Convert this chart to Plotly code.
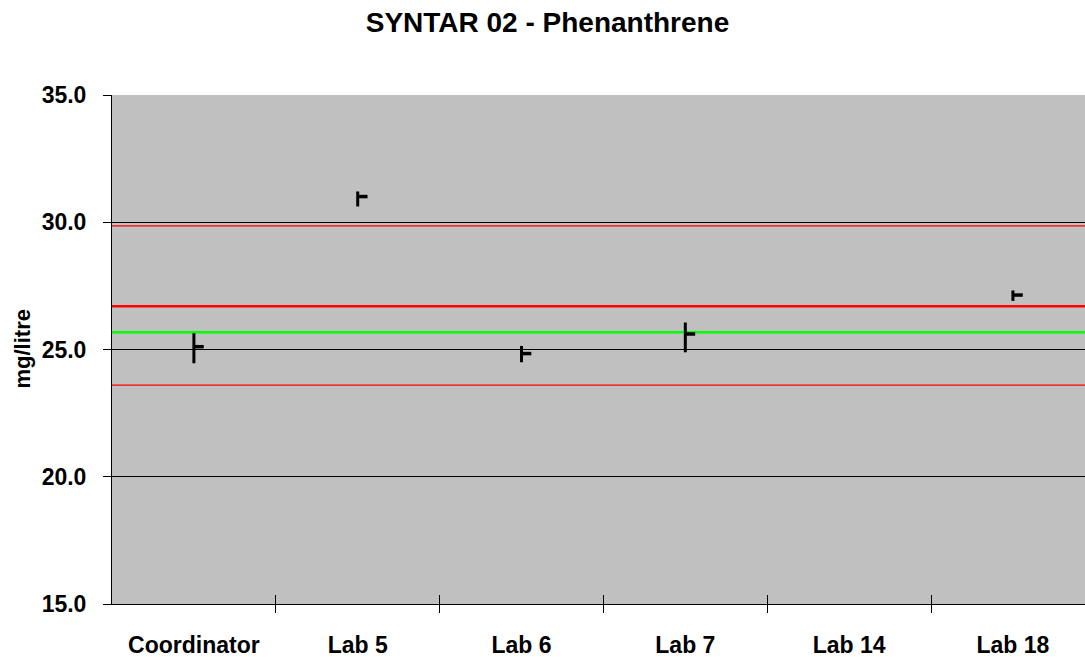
import plotly.graph_objects as go

# ---- data ----
categories = ["Coordinator", "Lab 5", "Lab 6", "Lab 7", "Lab 14", "Lab 18"]
high_vals = [25.64, 31.21, 25.14, 26.06, None, 27.32]
low_vals = [24.46, 30.62, 24.50, 24.89, None, 26.91]
close_vals = [25.11, 31.01, 24.84, 25.61, None, 27.14]

assigned_value = 26.70      # thick red
consensus_mean = 25.68      # green
upper_limit = 29.86         # thin red
lower_limit = 23.60         # thin red

y_ticks = [15, 20, 25, 30, 35]

TICK_W = 0.06  # close-tick length in category units

# ---- build HLC segments ----
n = len(categories)
xs = list(range(n))
vx, vy, cx, cy = [], [], [], []
for i, (h, l, c) in enumerate(zip(high_vals, low_vals, close_vals)):
    if h is None:
        continue
    vx += [i, i, None]
    vy += [l, h, None]
    cx += [i, i + TICK_W, None]
    cy += [c, c, None]

fig = go.Figure()

x_full = [-0.5, n - 0.5]
for val, color, width in [
    (upper_limit, "#FF0000", 1.2),
    (lower_limit, "#FF0000", 1.2),
    (assigned_value, "#FF0000", 2.5),
    (consensus_mean, "#00FF00", 2.5),
]:
    fig.add_trace(go.Scatter(x=x_full, y=[val, val], mode="lines",
                             line=dict(color=color, width=width),
                             showlegend=False, hoverinfo="skip"))

fig.add_trace(go.Scatter(x=vx, y=vy, mode="lines",
                         line=dict(color="black", width=3),
                         showlegend=False))
fig.add_trace(go.Scatter(x=cx, y=cy, mode="lines",
                         line=dict(color="black", width=3.5),
                         showlegend=False))

# invisible trace for the overlay axis
fig.add_trace(go.Scatter(x=[0], y=[15], xaxis="x2", mode="markers",
                         marker=dict(opacity=0), showlegend=False,
                         hoverinfo="skip"))

boundaries = [i + 0.5 for i in range(n - 1)]
x_range = [-0.5, 5.44]

fig.update_layout(
    width=1085, height=657,
    margin=dict(l=112, r=0, t=95, b=53, autoexpand=False),
    paper_bgcolor="white",
    plot_bgcolor="#C0C0C0",
    font=dict(family="Liberation Sans, Arial, sans-serif", color="black"),
    title=dict(text="<b>SYNTAR 02 - Phenanthrene</b>", x=0.5046, xanchor="center",
               y=1 - 22 / 657, yanchor="middle", yref="container",
               font=dict(size=28, color="black")),
    xaxis=dict(range=x_range, tickvals=xs, ticktext=[f"<b>{c}</b>" for c in categories],
               ticks="", showgrid=False, zeroline=False, automargin=False,
               showline=True, linecolor="black", linewidth=1,
               tickfont=dict(size=23), ticklabelstandoff=20,
               minor=dict(tickvals=boundaries, ticks="outside", ticklen=8,
                          tickcolor="black", tickwidth=1, showgrid=False)),
    xaxis2=dict(range=x_range, overlaying="x", anchor="y", side="bottom",
                tickvals=boundaries, ticks="inside", ticklen=9, automargin=False,
                tickcolor="black", showticklabels=False, showgrid=False,
                zeroline=False, showline=False),
    yaxis=dict(range=[15, 35], tickvals=y_ticks, automargin=False,
               ticktext=[f"<b>{v:.1f}</b>" for v in y_ticks],
               showgrid=True, gridcolor="black", gridwidth=1,
               zeroline=False, showline=True, linecolor="black", linewidth=1,
               ticks="outside", ticklen=8, tickcolor="black",
               tickfont=dict(size=23), ticklabelstandoff=12),
    annotations=[dict(text="<b>mg/litre</b>", textangle=-90,
                      xref="paper", yref="paper", x=-90 / 973, y=0.5,
                      xanchor="center", yanchor="middle", showarrow=False,
                      font=dict(size=22, color="black"))],
)

fig.write_html("out.html", config={"displayModeBar": False},
               post_script="document.body.style.margin='0';document.body.style.overflow='hidden';")
